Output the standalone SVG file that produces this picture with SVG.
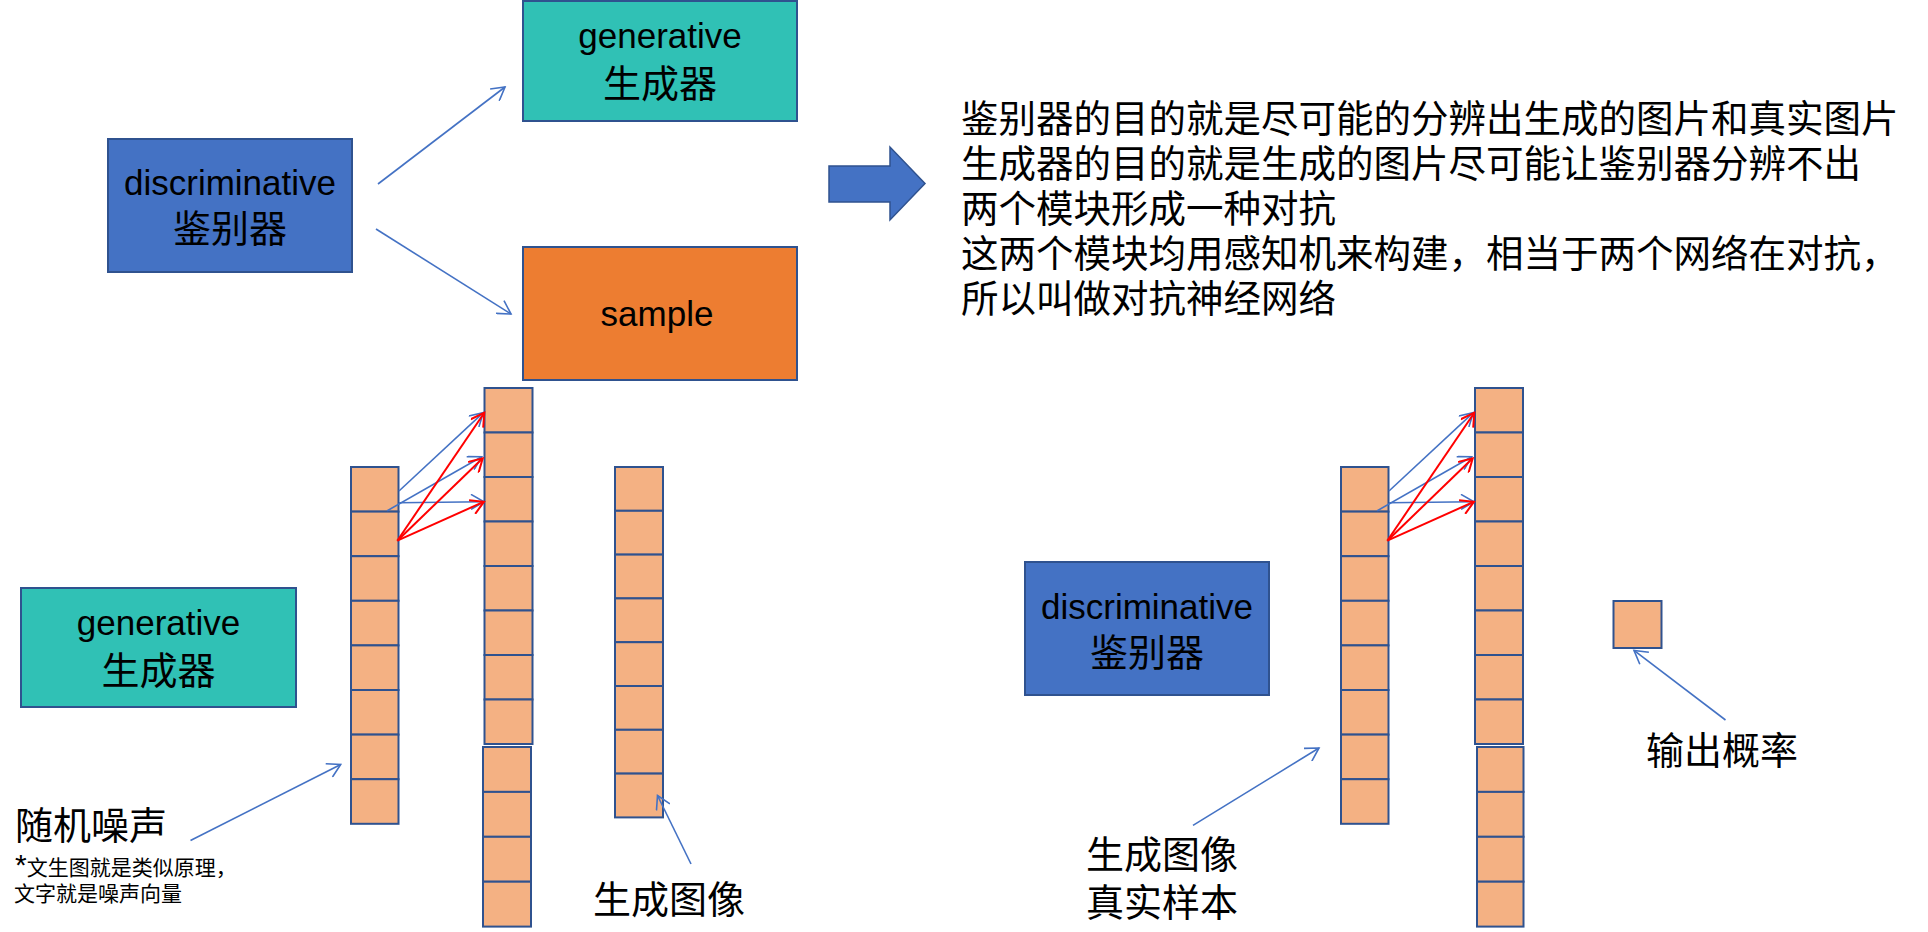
<svg xmlns="http://www.w3.org/2000/svg" width="1928" height="932" viewBox="0 0 1928 932">
<style>
.box{stroke:#2F528F;stroke-width:2}
.blue{fill:#4472C4}
.teal{fill:#30C1B5}
.orange{fill:#ED7D31}
.cell{fill:#F4B183;stroke:#2F528F;stroke-width:2}
.lat{font-family:"Liberation Sans",Arial,sans-serif;font-size:35px;fill:#000;text-anchor:middle}
.cjk{font-family:"Noto Sans CJK SC","Liberation Sans",sans-serif;font-size:38px;fill:#000}
.mid{text-anchor:middle}
.para{font-family:"Noto Sans CJK SC","Liberation Sans",sans-serif;font-size:37.5px;fill:#000}
.small{font-family:"Noto Sans CJK SC","Liberation Sans",sans-serif;font-size:21px;fill:#000}
.cb{fill:none;stroke:#4472C4;stroke-width:1.6}
.cr{fill:none;stroke:#FF0000;stroke-width:2}
</style>
<defs>
<marker id="ab" viewBox="0 0 16 16" refX="14" refY="8" markerWidth="16" markerHeight="16" markerUnits="userSpaceOnUse" orient="auto">
<path d="M1,0.5 L14,8 L1,15.5" fill="none" stroke="#4472C4" stroke-width="1.6"/>
</marker>
<marker id="ar" viewBox="0 0 16 16" refX="14" refY="8" markerWidth="16" markerHeight="16" markerUnits="userSpaceOnUse" orient="auto">
<path d="M1,0.5 L14,8 L1,15.5" fill="none" stroke="#FF0000" stroke-width="2"/>
</marker>
</defs>
<rect width="1928" height="932" fill="#FFFFFF"/>

<g id="top-discriminative">
<rect class="box blue" x="108" y="139" width="244" height="133"/>
<text class="lat" x="230" y="195">discriminative</text>
<text class="cjk mid" x="230" y="242">鉴别器</text>
</g>

<g id="top-generative">
<rect class="box teal" x="523" y="1" width="274" height="120"/>
<text class="lat" x="660" y="48">generative</text>
<text class="cjk mid" x="660" y="97">生成器</text>
</g>

<g id="top-sample">
<rect class="box orange" x="523" y="247" width="274" height="133"/>
<text class="lat" x="657" y="326">sample</text>
</g>

<g id="block-arrow">
<polygon points="829,166 890,166 890,147 925,183.5 890,220 890,202 829,202" fill="#4472C4" stroke="#2F528F" stroke-width="1.5"/>
</g>

<g id="explanation">
<text class="para" x="961" y="132">鉴别器的目的就是尽可能的分辨出生成的图片和真实图片</text>
<text class="para" x="961" y="177">生成器的目的就是生成的图片尽可能让鉴别器分辨不出</text>
<text class="para" x="961" y="222">两个模块形成一种对抗</text>
<text class="para" x="961" y="267">这两个模块均用感知机来构建，相当于两个网络在对抗，</text>
<text class="para" x="961" y="312">所以叫做对抗神经网络</text>
</g>

<g id="bottom-generative">
<rect class="box teal" x="21" y="588" width="275" height="119"/>
<text class="lat" x="158.5" y="635">generative</text>
<text class="cjk mid" x="158.5" y="684">生成器</text>
</g>

<g id="noise-vector">
<rect class="cell" x="351" y="467" width="47.5" height="44.6"/>
<rect class="cell" x="351" y="511.6" width="47.5" height="44.6"/>
<rect class="cell" x="351" y="556.2" width="47.5" height="44.6"/>
<rect class="cell" x="351" y="600.8" width="47.5" height="44.6"/>
<rect class="cell" x="351" y="645.4" width="47.5" height="44.6"/>
<rect class="cell" x="351" y="690" width="47.5" height="44.6"/>
<rect class="cell" x="351" y="734.6" width="47.5" height="44.6"/>
<rect class="cell" x="351" y="779.2" width="47.5" height="44.6"/>
</g>

<g id="gen-hidden-layer">
<rect class="cell" x="484.5" y="388" width="48" height="44.5"/>
<rect class="cell" x="484.5" y="432.5" width="48" height="44.5"/>
<rect class="cell" x="484.5" y="477" width="48" height="44.5"/>
<rect class="cell" x="484.5" y="521.5" width="48" height="44.5"/>
<rect class="cell" x="484.5" y="566" width="48" height="44.5"/>
<rect class="cell" x="484.5" y="610.5" width="48" height="44.5"/>
<rect class="cell" x="484.5" y="655" width="48" height="44.5"/>
<rect class="cell" x="484.5" y="699.5" width="48" height="44.5"/>
<rect class="cell" x="483" y="747" width="48" height="44.9"/>
<rect class="cell" x="483" y="791.9" width="48" height="44.9"/>
<rect class="cell" x="483" y="836.8" width="48" height="44.9"/>
<rect class="cell" x="483" y="881.7" width="48" height="44.9"/>
</g>

<g id="gen-output">
<rect class="cell" x="615" y="467" width="48" height="43.8"/>
<rect class="cell" x="615" y="510.8" width="48" height="43.8"/>
<rect class="cell" x="615" y="554.6" width="48" height="43.8"/>
<rect class="cell" x="615" y="598.4" width="48" height="43.8"/>
<rect class="cell" x="615" y="642.2" width="48" height="43.8"/>
<rect class="cell" x="615" y="686" width="48" height="43.8"/>
<rect class="cell" x="615" y="729.8" width="48" height="43.8"/>
<rect class="cell" x="615" y="773.6" width="48" height="43.8"/>
</g>

<g id="label-noise">
<text class="cjk" x="15" y="839">随机噪声</text>
<text class="small" x="15" y="875"><tspan font-family="Liberation Sans,sans-serif" font-size="30">*</tspan><tspan>文生图就是类似原理，</tspan></text>
<text class="small" x="14" y="901">文字就是噪声向量</text>
</g>

<g id="label-gen-image">
<text class="cjk" x="593" y="913">生成图像</text>
</g>

<g id="bottom-discriminative">
<rect class="box blue" x="1025" y="562" width="244" height="133"/>
<text class="lat" x="1147" y="619">discriminative</text>
<text class="cjk mid" x="1147" y="666">鉴别器</text>
</g>

<g id="disc-input">
<rect class="cell" x="1341" y="467" width="47.5" height="44.6"/>
<rect class="cell" x="1341" y="511.6" width="47.5" height="44.6"/>
<rect class="cell" x="1341" y="556.2" width="47.5" height="44.6"/>
<rect class="cell" x="1341" y="600.8" width="47.5" height="44.6"/>
<rect class="cell" x="1341" y="645.4" width="47.5" height="44.6"/>
<rect class="cell" x="1341" y="690" width="47.5" height="44.6"/>
<rect class="cell" x="1341" y="734.6" width="47.5" height="44.6"/>
<rect class="cell" x="1341" y="779.2" width="47.5" height="44.6"/>
</g>

<g id="disc-hidden-layer">
<rect class="cell" x="1475" y="388" width="48" height="44.5"/>
<rect class="cell" x="1475" y="432.5" width="48" height="44.5"/>
<rect class="cell" x="1475" y="477" width="48" height="44.5"/>
<rect class="cell" x="1475" y="521.5" width="48" height="44.5"/>
<rect class="cell" x="1475" y="566" width="48" height="44.5"/>
<rect class="cell" x="1475" y="610.5" width="48" height="44.5"/>
<rect class="cell" x="1475" y="655" width="48" height="44.5"/>
<rect class="cell" x="1475" y="699.5" width="48" height="44.5"/>
<rect class="cell" x="1477" y="747" width="46.5" height="44.9"/>
<rect class="cell" x="1477" y="791.9" width="46.5" height="44.9"/>
<rect class="cell" x="1477" y="836.8" width="46.5" height="44.9"/>
<rect class="cell" x="1477" y="881.7" width="46.5" height="44.9"/>
</g>

<g id="disc-output">
<rect class="cell" x="1613.5" y="601" width="48" height="47"/>
</g>

<g id="label-disc-input">
<text class="cjk" x="1086" y="868">生成图像</text>
<text class="cjk" x="1086" y="916">真实样本</text>
</g>

<g id="label-probability">
<text class="cjk" x="1646" y="764">输出概率</text>
</g>

<g id="connectors">
<line class="cb" x1="378" y1="184" x2="505" y2="87" marker-end="url(#ab)"/>
<line class="cb" x1="376" y1="229" x2="511" y2="314" marker-end="url(#ab)"/>

<line class="cb" x1="399" y1="491" x2="483.3" y2="412.7" marker-end="url(#ab)"/>
<line class="cb" x1="387.3" y1="510.7" x2="481.7" y2="456.7" marker-end="url(#ab)"/>
<line class="cb" x1="399" y1="502.7" x2="484" y2="501.7" marker-end="url(#ab)"/>
<line class="cr" x1="397.3" y1="540.7" x2="484.3" y2="412.7" marker-end="url(#ar)"/>
<line class="cr" x1="397.3" y1="540.7" x2="482.7" y2="458.3" marker-end="url(#ar)"/>
<line class="cr" x1="397.3" y1="540.7" x2="484" y2="501.7" marker-end="url(#ar)"/>

<line class="cb" x1="190.5" y1="840.5" x2="340.7" y2="764.5" marker-end="url(#ab)"/>
<line class="cb" x1="691" y1="864" x2="657.5" y2="795.5" marker-end="url(#ab)"/>

<line class="cb" x1="1389" y1="491" x2="1473.3" y2="412.7" marker-end="url(#ab)"/>
<line class="cb" x1="1377.3" y1="510.7" x2="1471.7" y2="456.7" marker-end="url(#ab)"/>
<line class="cb" x1="1389" y1="502.7" x2="1474" y2="501.7" marker-end="url(#ab)"/>
<line class="cr" x1="1387.3" y1="540.7" x2="1474.3" y2="412.7" marker-end="url(#ar)"/>
<line class="cr" x1="1387.3" y1="540.7" x2="1472.7" y2="458.3" marker-end="url(#ar)"/>
<line class="cr" x1="1387.3" y1="540.7" x2="1474" y2="501.7" marker-end="url(#ar)"/>

<line class="cb" x1="1193" y1="825.4" x2="1319" y2="748" marker-end="url(#ab)"/>
<line class="cb" x1="1725.5" y1="720" x2="1634" y2="650.4" marker-end="url(#ab)"/>
</g>
</svg>
